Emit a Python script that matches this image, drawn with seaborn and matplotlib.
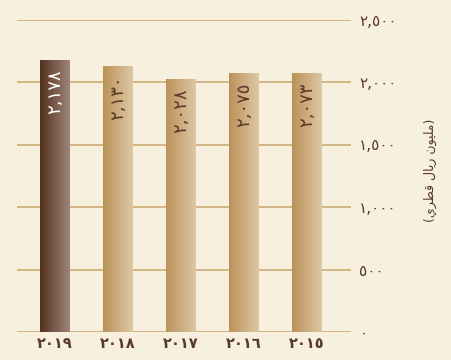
import numpy as np
import pandas as pd
import matplotlib
matplotlib.use("Agg")
import matplotlib.pyplot as plt
from matplotlib.colors import LinearSegmentedColormap
import seaborn as sns

# ---- data ----
years = ["2019", "2018", "2017", "2016", "2015"]
values = [2178, 2130, 2028, 2075, 2073]
yticks = [0, 500, 1000, 1500, 2000, 2500]
ylabel_text = "(مليون ريال قطري)"

AR_DIGITS = str.maketrans("0123456789", "٠١٢٣٤٥٦٧٨٩")


def ar_num(s):
    return s.translate(AR_DIGITS)


def fmt_num(v):
    return ar_num(f"{v:,}")


# visual (pre-shaped, LTR display order) form of the axis label
# logical: ( م ل ي و ن   ر ي ا ل   ق ط ر ي )
shaped_core = ("\uFEE3\uFEE0\uFEF4\uFEEE\uFEE5 "   # مليون
               "\uFEAD\uFEF3\uFE8E\uFEDD "          # ريال
               "\uFED7\uFEC4\uFEAE\uFEF1")          # قطري
ylabel_visual = "(" + shaped_core[::-1] + ")"

BG = "#f8f0df"
GRID = "#c9a56c"
TXT = "#5a3a29"

sns.set_theme(style="white")
plt.rcParams["font.family"] = ["DejaVu Sans"]

fig = plt.figure(figsize=(4.52, 3.60), dpi=100, facecolor=BG)
ax = fig.add_axes([17 / 452, (360 - 332) / 360, (351 - 17) / 452, (332 - 19.5) / 360])
ax.set_facecolor(BG)

df = pd.DataFrame({"year": years, "value": values})
sns.barplot(data=df, x="year", y="value", order=years, color="#c9a56c",
            width=30 / 63, ax=ax, zorder=3, saturation=1)

# gradient fills
cm_dark = LinearSegmentedColormap.from_list("d", ["#54301f", "#a08679"])
cm_light = LinearSegmentedColormap.from_list("l", ["#bb9158", "#ddc8a5"])
grad = np.linspace(0, 1, 256).reshape(1, -1)
for i, p in enumerate(ax.patches):
    x0, y0 = p.get_x(), p.get_y()
    w, h = p.get_width(), p.get_height()
    p.set_facecolor("none")
    p.set_edgecolor("none")
    im = ax.imshow(grad, cmap=cm_dark if i == 0 else cm_light, aspect="auto",
                   extent=(x0, x0 + w, y0, y0 + h), zorder=3, interpolation="bilinear")
    im.set_clip_path(p)

ax.set_xlim(-38 / 63, 4 + 44 / 63)
ax.set_ylim(0, 2500)

# gridlines
for t in yticks:
    ax.axhline(t, color=GRID, lw=1.1, zorder=1)

for s in ax.spines.values():
    s.set_visible(False)

ax.yaxis.tick_right()
ax.set_yticks(yticks)
ax.set_yticklabels([fmt_num(v) for v in yticks], color=TXT, fontsize=11)
ax.tick_params(axis="y", length=0, pad=6)
for lab in ax.get_yticklabels():
    lab.set_horizontalalignment("left")

ax.set_xticks(range(len(years)))
ax.set_xticklabels([ar_num(y) for y in years], color=TXT, fontsize=10.5, fontweight="bold")
ax.tick_params(axis="x", length=0, pad=3)
ax.set_xlabel("")
ax.set_ylabel("")

# value labels inside bars
for i, v in enumerate(values):
    ax.annotate(fmt_num(v), xy=(i, v), xytext=(0, -7), textcoords="offset points",
                ha="center", va="top", rotation=90, fontsize=13,
                color="white" if i == 0 else TXT, zorder=5)

fig.text(430 / 452, 1 - 170 / 360, ylabel_visual, rotation=90, ha="center", va="center",
         fontsize=9, color=TXT)

fig.savefig("out.png", dpi=100, facecolor=BG)
